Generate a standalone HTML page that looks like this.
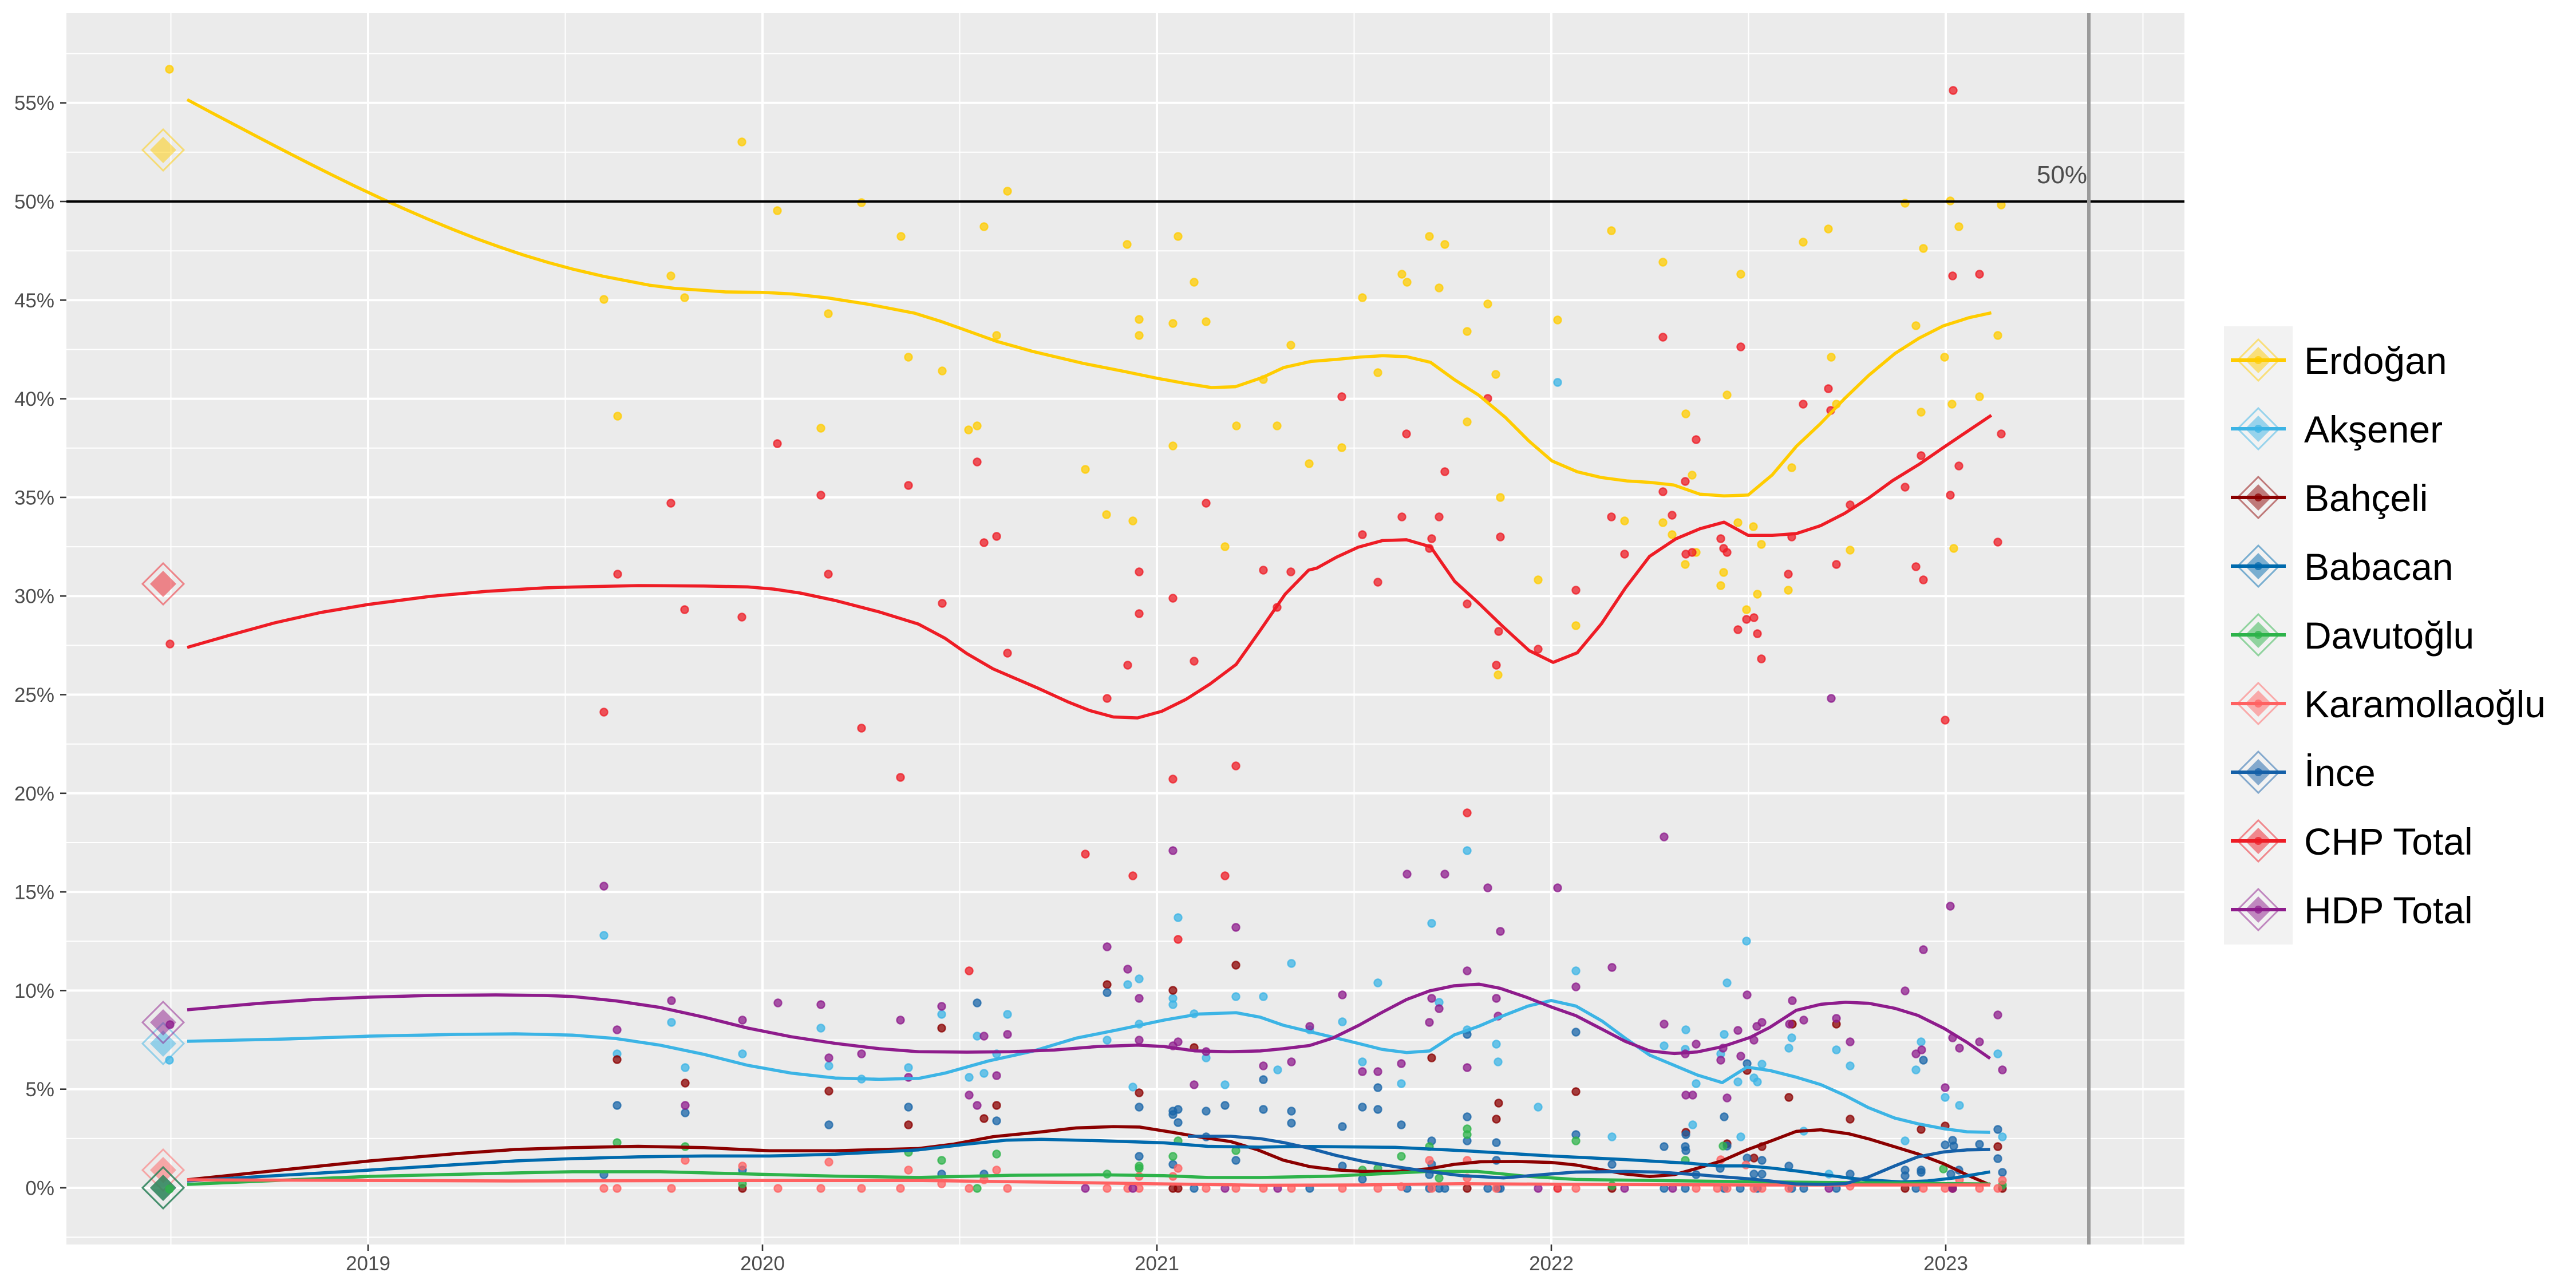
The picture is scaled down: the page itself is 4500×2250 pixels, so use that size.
<!DOCTYPE html>
<html><head><meta charset="utf-8"><style>
html,body{margin:0;padding:0;background:#fff;}
svg{display:block;}
.pt circle{stroke-width:2.4;}
</style></head><body>
<svg width="4500" height="2250" viewBox="0 0 4500 2250" xmlns="http://www.w3.org/2000/svg" font-family="'Liberation Sans', Arial, sans-serif">
<rect x="0" y="0" width="4500" height="2250" fill="#fff"/>
<rect x="116" y="23" width="3700" height="2151" fill="#EBEBEB"/>
<g stroke="#fff" stroke-width="2">
<line x1="116" x2="3816" y1="2161.2" y2="2161.2"/><line x1="116" x2="3816" y1="1988.9" y2="1988.9"/><line x1="116" x2="3816" y1="1816.6" y2="1816.6"/><line x1="116" x2="3816" y1="1644.3" y2="1644.3"/><line x1="116" x2="3816" y1="1472" y2="1472"/><line x1="116" x2="3816" y1="1299.7" y2="1299.7"/><line x1="116" x2="3816" y1="1127.4" y2="1127.4"/><line x1="116" x2="3816" y1="955.1" y2="955.1"/><line x1="116" x2="3816" y1="782.8" y2="782.8"/><line x1="116" x2="3816" y1="610.5" y2="610.5"/><line x1="116" x2="3816" y1="438.2" y2="438.2"/><line x1="116" x2="3816" y1="265.9" y2="265.9"/><line x1="116" x2="3816" y1="93.6" y2="93.6"/>
<line y1="23" y2="2174" x1="298.5" x2="298.5"/><line y1="23" y2="2174" x1="987.5" x2="987.5"/><line y1="23" y2="2174" x1="1676.5" x2="1676.5"/><line y1="23" y2="2174" x1="2365.5" x2="2365.5"/><line y1="23" y2="2174" x1="3054.5" x2="3054.5"/><line y1="23" y2="2174" x1="3743.5" x2="3743.5"/>
</g>
<g stroke="#fff" stroke-width="4">
<line x1="116" x2="3816" y1="2075" y2="2075"/><line x1="116" x2="3816" y1="1902.7" y2="1902.7"/><line x1="116" x2="3816" y1="1730.4" y2="1730.4"/><line x1="116" x2="3816" y1="1558.1" y2="1558.1"/><line x1="116" x2="3816" y1="1385.8" y2="1385.8"/><line x1="116" x2="3816" y1="1213.5" y2="1213.5"/><line x1="116" x2="3816" y1="1041.2" y2="1041.2"/><line x1="116" x2="3816" y1="868.9" y2="868.9"/><line x1="116" x2="3816" y1="696.6" y2="696.6"/><line x1="116" x2="3816" y1="524.3" y2="524.3"/><line x1="116" x2="3816" y1="352" y2="352"/><line x1="116" x2="3816" y1="179.7" y2="179.7"/>
<line y1="23" y2="2174" x1="643" x2="643"/><line y1="23" y2="2174" x1="1332" x2="1332"/><line y1="23" y2="2174" x1="2021" x2="2021"/><line y1="23" y2="2174" x1="2710" x2="2710"/><line y1="23" y2="2174" x1="3399" x2="3399"/>
</g>

<!-- election diamonds -->
<g stroke-width="3">
<g fill="#FFCC00" fill-opacity="0.5" stroke="#FFCC00" stroke-opacity="0.5"><path d="M285 226 L321 262 L285 298 L249 262 Z" fill="none"/><path d="M285 239 L308 262 L285 285 L262 262 Z" stroke="none"/></g>
<g fill="#EE1C25" fill-opacity="0.5" stroke="#EE1C25" stroke-opacity="0.5"><path d="M285 984 L321 1020 L285 1056 L249 1020 Z" fill="none"/><path d="M285 997 L308 1020 L285 1043 L262 1020 Z" stroke="none"/></g>
<g fill="#3CB4E5" fill-opacity="0.5" stroke="#3CB4E5" stroke-opacity="0.5"><path d="M285 1787 L321 1823 L285 1859 L249 1823 Z" fill="none"/><path d="M285 1800 L308 1823 L285 1846 L262 1823 Z" stroke="none"/></g>
<g fill="#8E1C8C" fill-opacity="0.5" stroke="#8E1C8C" stroke-opacity="0.5"><path d="M285 1750 L321 1786 L285 1822 L249 1786 Z" fill="none"/><path d="M285 1763 L308 1786 L285 1809 L262 1786 Z" stroke="none"/></g>
<g fill="#FF6161" fill-opacity="0.5" stroke="#FF6161" stroke-opacity="0.5"><path d="M285 2008 L321 2044 L285 2080 L249 2044 Z" fill="none"/><path d="M285 2021 L308 2044 L285 2067 L262 2044 Z" stroke="none"/></g>
<g fill="#8B0000" fill-opacity="0.5" stroke="#8B0000" stroke-opacity="0.5"><path d="M285 2039 L321 2075 L285 2111 L249 2075 Z" fill="none"/><path d="M285 2052 L308 2075 L285 2098 L262 2075 Z" stroke="none"/></g>
<g fill="#006AAD" fill-opacity="0.5" stroke="#006AAD" stroke-opacity="0.5"><path d="M285 2039 L321 2075 L285 2111 L249 2075 Z" fill="none"/><path d="M285 2052 L308 2075 L285 2098 L262 2075 Z" stroke="none"/></g>
<g fill="#2DB34A" fill-opacity="0.5" stroke="#2DB34A" stroke-opacity="0.5"><path d="M285 2039 L321 2075 L285 2111 L249 2075 Z" fill="none"/><path d="M285 2052 L308 2075 L285 2098 L262 2075 Z" stroke="none"/></g>
</g>

<!-- points -->
<g class="pt" fill="#FFCC00" fill-opacity="0.75" stroke="#FFCC00" stroke-opacity="0.75">
<circle cx="296" cy="121" r="6.5"/><circle cx="1296" cy="248" r="6.5"/><circle cx="1055" cy="523" r="6.5"/><circle cx="1172" cy="482" r="6.5"/><circle cx="1196" cy="520" r="6.5"/><circle cx="1079" cy="727" r="6.5"/><circle cx="1358" cy="368" r="6.5"/><circle cx="1505" cy="354" r="6.5"/><circle cx="1574" cy="413" r="6.5"/><circle cx="1447" cy="548" r="6.5"/><circle cx="1434" cy="748" r="6.5"/><circle cx="1587" cy="624" r="6.5"/><circle cx="1646" cy="648" r="6.5"/><circle cx="1719" cy="396" r="6.5"/><circle cx="1760" cy="334" r="6.5"/><circle cx="1741" cy="586" r="6.5"/><circle cx="1692" cy="751" r="6.5"/><circle cx="1707" cy="744" r="6.5"/><circle cx="1896" cy="820" r="6.5"/><circle cx="1933" cy="899" r="6.5"/><circle cx="1979" cy="910" r="6.5"/><circle cx="1969" cy="427" r="6.5"/><circle cx="2058" cy="413" r="6.5"/><circle cx="2086" cy="493" r="6.5"/><circle cx="1990" cy="558" r="6.5"/><circle cx="1990" cy="586" r="6.5"/><circle cx="2049" cy="565" r="6.5"/><circle cx="2107" cy="562" r="6.5"/><circle cx="2049" cy="779" r="6.5"/><circle cx="2140" cy="955" r="6.5"/><circle cx="2160" cy="744" r="6.5"/><circle cx="2207" cy="663" r="6.5"/><circle cx="2231" cy="744" r="6.5"/><circle cx="2255" cy="603" r="6.5"/><circle cx="2287" cy="810" r="6.5"/>
<circle cx="2497" cy="413" r="6.5"/><circle cx="2524" cy="427" r="6.5"/><circle cx="2449" cy="479" r="6.5"/><circle cx="2458" cy="493" r="6.5"/><circle cx="2514" cy="503" r="6.5"/><circle cx="2380" cy="520" r="6.5"/><circle cx="2599" cy="531" r="6.5"/><circle cx="2563" cy="579" r="6.5"/><circle cx="2407" cy="651" r="6.5"/><circle cx="2613" cy="654" r="6.5"/><circle cx="2344" cy="782" r="6.5"/><circle cx="2563" cy="737" r="6.5"/><circle cx="2621" cy="869" r="6.5"/><circle cx="2815" cy="403" r="6.5"/><circle cx="2905" cy="458" r="6.5"/><circle cx="2721" cy="559" r="6.5"/><circle cx="3041" cy="479" r="6.5"/><circle cx="3017" cy="690" r="6.5"/><circle cx="2945" cy="723" r="6.5"/><circle cx="2956" cy="830" r="6.5"/><circle cx="2838" cy="910" r="6.5"/><circle cx="2905" cy="913" r="6.5"/><circle cx="2921" cy="934" r="6.5"/><circle cx="2963" cy="965" r="6.5"/><circle cx="2944" cy="986" r="6.5"/><circle cx="3036" cy="913" r="6.5"/><circle cx="3063" cy="920" r="6.5"/><circle cx="3077" cy="951" r="6.5"/><circle cx="3011" cy="1000" r="6.5"/><circle cx="3006" cy="1023" r="6.5"/><circle cx="3070" cy="1038" r="6.5"/><circle cx="3051" cy="1065" r="6.5"/><circle cx="3124" cy="1031" r="6.5"/><circle cx="2687" cy="1013" r="6.5"/><circle cx="2753" cy="1093" r="6.5"/><circle cx="2617" cy="1179" r="6.5"/><circle cx="3130" cy="817" r="6.5"/><circle cx="3150" cy="423" r="6.5"/><circle cx="3194" cy="400" r="6.5"/><circle cx="3199" cy="624" r="6.5"/><circle cx="3208" cy="706" r="6.5"/><circle cx="3232" cy="961" r="6.5"/><circle cx="3328" cy="355" r="6.5"/><circle cx="3360" cy="434" r="6.5"/><circle cx="3347" cy="569" r="6.5"/><circle cx="3356" cy="720" r="6.5"/><circle cx="3407" cy="351" r="6.5"/><circle cx="3422" cy="396" r="6.5"/><circle cx="3397" cy="624" r="6.5"/><circle cx="3410" cy="706" r="6.5"/><circle cx="3413" cy="958" r="6.5"/><circle cx="3458" cy="693" r="6.5"/><circle cx="3490" cy="586" r="6.5"/><circle cx="3496" cy="358" r="6.5"/>
</g>
<g class="pt" fill="#3CB4E5" fill-opacity="0.75" stroke="#3CB4E5" stroke-opacity="0.75">
<circle cx="296" cy="1852" r="6.5"/><circle cx="1055" cy="1634" r="6.5"/><circle cx="1078" cy="1841" r="6.5"/><circle cx="1173" cy="1786" r="6.5"/><circle cx="1197" cy="1865" r="6.5"/><circle cx="1297" cy="1841" r="6.5"/><circle cx="1434" cy="1796" r="6.5"/><circle cx="1448" cy="1862" r="6.5"/><circle cx="1505" cy="1885" r="6.5"/><circle cx="1587" cy="1865" r="6.5"/><circle cx="1645" cy="1772" r="6.5"/><circle cx="1693" cy="1882" r="6.5"/><circle cx="1707" cy="1810" r="6.5"/><circle cx="1719" cy="1875" r="6.5"/><circle cx="1741" cy="1841" r="6.5"/><circle cx="1760" cy="1772" r="6.5"/><circle cx="1934" cy="1817" r="6.5"/><circle cx="1970" cy="1720" r="6.5"/><circle cx="1990" cy="1710" r="6.5"/><circle cx="1979" cy="1899" r="6.5"/><circle cx="1990" cy="1789" r="6.5"/><circle cx="2049" cy="1744" r="6.5"/><circle cx="2049" cy="1755" r="6.5"/><circle cx="2058" cy="1603" r="6.5"/><circle cx="2086" cy="1771" r="6.5"/><circle cx="2107" cy="1848" r="6.5"/><circle cx="2140" cy="1895" r="6.5"/><circle cx="2159" cy="1741" r="6.5"/>
<circle cx="2256" cy="1683" r="6.5"/><circle cx="2407" cy="1717" r="6.5"/><circle cx="2501" cy="1613" r="6.5"/><circle cx="2563" cy="1486" r="6.5"/><circle cx="2207" cy="1741" r="6.5"/><circle cx="2345" cy="1785" r="6.5"/><circle cx="2288" cy="1799" r="6.5"/><circle cx="2232" cy="1869" r="6.5"/><circle cx="2380" cy="1855" r="6.5"/><circle cx="2448" cy="1893" r="6.5"/><circle cx="2514" cy="1751" r="6.5"/><circle cx="2563" cy="1799" r="6.5"/><circle cx="2614" cy="1824" r="6.5"/><circle cx="2617" cy="1855" r="6.5"/><circle cx="2687" cy="1934" r="6.5"/><circle cx="2753" cy="1696" r="6.5"/><circle cx="2816" cy="1986" r="6.5"/><circle cx="2907" cy="1827" r="6.5"/><circle cx="2945" cy="1799" r="6.5"/><circle cx="2944" cy="1833" r="6.5"/><circle cx="2963" cy="1893" r="6.5"/><circle cx="2957" cy="1965" r="6.5"/>
<circle cx="2721" cy="668" r="6.5"/><circle cx="3051" cy="1644" r="6.5"/>
<circle cx="3017" cy="1717" r="6.5"/><circle cx="3012" cy="1807" r="6.5"/><circle cx="3130" cy="1813" r="6.5"/><circle cx="3125" cy="1831" r="6.5"/><circle cx="3208" cy="1834" r="6.5"/><circle cx="3006" cy="1841" r="6.5"/><circle cx="3356" cy="1820" r="6.5"/><circle cx="3490" cy="1841" r="6.5"/><circle cx="3078" cy="1859" r="6.5"/><circle cx="3232" cy="1862" r="6.5"/><circle cx="3347" cy="1869" r="6.5"/><circle cx="3036" cy="1890" r="6.5"/><circle cx="3064" cy="1883" r="6.5"/><circle cx="3070" cy="1890" r="6.5"/><circle cx="3398" cy="1917" r="6.5"/><circle cx="3423" cy="1931" r="6.5"/><circle cx="3041" cy="1986" r="6.5"/><circle cx="3151" cy="1976" r="6.5"/><circle cx="3328" cy="1993" r="6.5"/><circle cx="3498" cy="1986" r="6.5"/><circle cx="3195" cy="2051" r="6.5"/>
</g>
<g class="pt" fill="#8B0000" fill-opacity="0.75" stroke="#8B0000" stroke-opacity="0.75">
<circle cx="1078" cy="1851" r="6.5"/><circle cx="1197" cy="1892" r="6.5"/><circle cx="1448" cy="1906" r="6.5"/><circle cx="1587" cy="1965" r="6.5"/><circle cx="1645" cy="1796" r="6.5"/><circle cx="1719" cy="1954" r="6.5"/><circle cx="1741" cy="1931" r="6.5"/><circle cx="1934" cy="1720" r="6.5"/><circle cx="1990" cy="1909" r="6.5"/><circle cx="2049" cy="1730" r="6.5"/><circle cx="2086" cy="1830" r="6.5"/><circle cx="2159" cy="1686" r="6.5"/><circle cx="1297" cy="2076" r="6.5"/><circle cx="2049" cy="2076" r="6.5"/><circle cx="2058" cy="2076" r="6.5"/>
<circle cx="2501" cy="1848" r="6.5"/><circle cx="2618" cy="1927" r="6.5"/><circle cx="2614" cy="1955" r="6.5"/><circle cx="2753" cy="1907" r="6.5"/><circle cx="2945" cy="1978" r="6.5"/><circle cx="2563" cy="2076" r="6.5"/><circle cx="2816" cy="2076" r="6.5"/>
<circle cx="3131" cy="1789" r="6.5"/><circle cx="3208" cy="1789" r="6.5"/><circle cx="3052" cy="1870" r="6.5"/><circle cx="3125" cy="1917" r="6.5"/><circle cx="3232" cy="1955" r="6.5"/><circle cx="3356" cy="1973" r="6.5"/><circle cx="3398" cy="1967" r="6.5"/><circle cx="3490" cy="2003" r="6.5"/><circle cx="3017" cy="1998" r="6.5"/><circle cx="3078" cy="2003" r="6.5"/><circle cx="3064" cy="2023" r="6.5"/><circle cx="3498" cy="2076" r="6.5"/><circle cx="3328" cy="2076" r="6.5"/><circle cx="3411" cy="2076" r="6.5"/>
</g>
<g class="pt" fill="#1A66A8" fill-opacity="0.75" stroke="#1A66A8" stroke-opacity="0.75">
<circle cx="1078" cy="1931" r="6.5"/><circle cx="1197" cy="1944" r="6.5"/><circle cx="1448" cy="1965" r="6.5"/><circle cx="1587" cy="1934" r="6.5"/><circle cx="1707" cy="1752" r="6.5"/><circle cx="1741" cy="1958" r="6.5"/><circle cx="1934" cy="1734" r="6.5"/><circle cx="1990" cy="1934" r="6.5"/><circle cx="2049" cy="1941" r="6.5"/><circle cx="2049" cy="1947" r="6.5"/><circle cx="2058" cy="1938" r="6.5"/><circle cx="2058" cy="1961" r="6.5"/><circle cx="2107" cy="1941" r="6.5"/><circle cx="2140" cy="1931" r="6.5"/><circle cx="2107" cy="1986" r="6.5"/><circle cx="1055" cy="2052" r="6.5"/><circle cx="1297" cy="2044" r="6.5"/><circle cx="1645" cy="2051" r="6.5"/><circle cx="1719" cy="2051" r="6.5"/><circle cx="1990" cy="2020" r="6.5"/><circle cx="2049" cy="2034" r="6.5"/><circle cx="2159" cy="2027" r="6.5"/><circle cx="2086" cy="2076" r="6.5"/>
<circle cx="2207" cy="1886" r="6.5"/><circle cx="2207" cy="1938" r="6.5"/><circle cx="2256" cy="1941" r="6.5"/><circle cx="2256" cy="1962" r="6.5"/><circle cx="2345" cy="1968" r="6.5"/><circle cx="2380" cy="1934" r="6.5"/><circle cx="2407" cy="1900" r="6.5"/><circle cx="2407" cy="1938" r="6.5"/><circle cx="2448" cy="1965" r="6.5"/><circle cx="2563" cy="1807" r="6.5"/><circle cx="2563" cy="1951" r="6.5"/><circle cx="2563" cy="1993" r="6.5"/><circle cx="2501" cy="1993" r="6.5"/><circle cx="2501" cy="2034" r="6.5"/><circle cx="2614" cy="1996" r="6.5"/><circle cx="2614" cy="2027" r="6.5"/><circle cx="2753" cy="1803" r="6.5"/><circle cx="2753" cy="1982" r="6.5"/><circle cx="2816" cy="2034" r="6.5"/><circle cx="2907" cy="2003" r="6.5"/><circle cx="2944" cy="2003" r="6.5"/><circle cx="2945" cy="1982" r="6.5"/><circle cx="2945" cy="2010" r="6.5"/><circle cx="3005" cy="2041" r="6.5"/><circle cx="2963" cy="2052" r="6.5"/><circle cx="2345" cy="2037" r="6.5"/><circle cx="2380" cy="2060" r="6.5"/><circle cx="2497" cy="2052" r="6.5"/><circle cx="2288" cy="2076" r="6.5"/><circle cx="2458" cy="2076" r="6.5"/><circle cx="2497" cy="2076" r="6.5"/><circle cx="2514" cy="2076" r="6.5"/><circle cx="2524" cy="2076" r="6.5"/><circle cx="2599" cy="2076" r="6.5"/><circle cx="2617" cy="2076" r="6.5"/><circle cx="2621" cy="2076" r="6.5"/><circle cx="2907" cy="2076" r="6.5"/><circle cx="2944" cy="2076" r="6.5"/>
<circle cx="3052" cy="1858" r="6.5"/><circle cx="3360" cy="1852" r="6.5"/><circle cx="3012" cy="1951" r="6.5"/><circle cx="3017" cy="2002" r="6.5"/><circle cx="3052" cy="2023" r="6.5"/><circle cx="3078" cy="2027" r="6.5"/><circle cx="3125" cy="2037" r="6.5"/><circle cx="3064" cy="2051" r="6.5"/><circle cx="3078" cy="2051" r="6.5"/><circle cx="3232" cy="2051" r="6.5"/><circle cx="3328" cy="2044" r="6.5"/><circle cx="3328" cy="2054" r="6.5"/><circle cx="3356" cy="2044" r="6.5"/><circle cx="3356" cy="2048" r="6.5"/><circle cx="3398" cy="2000" r="6.5"/><circle cx="3411" cy="1992" r="6.5"/><circle cx="3413" cy="2002" r="6.5"/><circle cx="3458" cy="1999" r="6.5"/><circle cx="3490" cy="1973" r="6.5"/><circle cx="3490" cy="2024" r="6.5"/><circle cx="3498" cy="2048" r="6.5"/><circle cx="3408" cy="2051" r="6.5"/><circle cx="3422" cy="2044" r="6.5"/><circle cx="3012" cy="2076" r="6.5"/><circle cx="3040" cy="2076" r="6.5"/><circle cx="3070" cy="2076" r="6.5"/><circle cx="3130" cy="2076" r="6.5"/><circle cx="3151" cy="2076" r="6.5"/><circle cx="3208" cy="2076" r="6.5"/><circle cx="3347" cy="2076" r="6.5"/>
</g>
<g class="pt" fill="#2DB34A" fill-opacity="0.75" stroke="#2DB34A" stroke-opacity="0.75">
<circle cx="296" cy="2077" r="6.5"/><circle cx="1078" cy="1996" r="6.5"/><circle cx="1197" cy="2003" r="6.5"/><circle cx="1297" cy="2068" r="6.5"/><circle cx="1587" cy="2013" r="6.5"/><circle cx="1645" cy="2027" r="6.5"/><circle cx="1741" cy="2016" r="6.5"/><circle cx="1707" cy="2076" r="6.5"/><circle cx="1934" cy="2051" r="6.5"/><circle cx="1990" cy="2037" r="6.5"/><circle cx="1990" cy="2041" r="6.5"/><circle cx="2049" cy="2020" r="6.5"/><circle cx="2058" cy="1993" r="6.5"/><circle cx="2159" cy="2010" r="6.5"/>
<circle cx="2407" cy="2041" r="6.5"/><circle cx="2448" cy="2020" r="6.5"/><circle cx="2497" cy="2003" r="6.5"/><circle cx="2563" cy="1972" r="6.5"/><circle cx="2563" cy="1982" r="6.5"/><circle cx="2514" cy="2058" r="6.5"/><circle cx="2753" cy="1993" r="6.5"/><circle cx="2944" cy="2027" r="6.5"/><circle cx="2816" cy="2071" r="6.5"/><circle cx="2380" cy="2044" r="6.5"/><circle cx="3010" cy="2002" r="6.5"/><circle cx="3395" cy="2042" r="6.5"/><circle cx="3498" cy="2070" r="6.5"/>
</g>
<g class="pt" fill="#FF6161" fill-opacity="0.75" stroke="#FF6161" stroke-opacity="0.75">
<circle cx="1055" cy="2076" r="6.5"/><circle cx="1078" cy="2076" r="6.5"/><circle cx="1173" cy="2076" r="6.5"/><circle cx="1197" cy="2027" r="6.5"/><circle cx="1297" cy="2037" r="6.5"/><circle cx="1359" cy="2076" r="6.5"/><circle cx="1434" cy="2076" r="6.5"/><circle cx="1448" cy="2030" r="6.5"/><circle cx="1505" cy="2076" r="6.5"/><circle cx="1573" cy="2076" r="6.5"/><circle cx="1587" cy="2044" r="6.5"/><circle cx="1645" cy="2068" r="6.5"/><circle cx="1693" cy="2076" r="6.5"/><circle cx="1741" cy="2044" r="6.5"/><circle cx="1760" cy="2076" r="6.5"/><circle cx="1934" cy="2076" r="6.5"/><circle cx="1970" cy="2076" r="6.5"/><circle cx="1990" cy="2055" r="6.5"/><circle cx="1990" cy="2076" r="6.5"/><circle cx="2049" cy="2055" r="6.5"/><circle cx="2058" cy="2041" r="6.5"/><circle cx="2107" cy="2076" r="6.5"/><circle cx="2159" cy="2076" r="6.5"/><circle cx="1719" cy="2061" r="6.5"/>
<circle cx="2207" cy="2076" r="6.5"/><circle cx="2256" cy="2076" r="6.5"/><circle cx="2345" cy="2076" r="6.5"/><circle cx="2407" cy="2076" r="6.5"/><circle cx="2448" cy="2073" r="6.5"/><circle cx="2497" cy="2027" r="6.5"/><circle cx="2501" cy="2076" r="6.5"/><circle cx="2563" cy="2027" r="6.5"/><circle cx="2563" cy="2058" r="6.5"/><circle cx="2614" cy="2076" r="6.5"/><circle cx="2753" cy="2076" r="6.5"/><circle cx="2963" cy="2076" r="6.5"/>
<circle cx="3006" cy="2026" r="6.5"/><circle cx="3050" cy="2035" r="6.5"/><circle cx="3498" cy="2062" r="6.5"/><circle cx="3490" cy="2076" r="6.5"/><circle cx="3000" cy="2076" r="6.5"/><circle cx="3017" cy="2076" r="6.5"/><circle cx="3064" cy="2076" r="6.5"/><circle cx="3078" cy="2076" r="6.5"/><circle cx="3125" cy="2076" r="6.5"/><circle cx="3232" cy="2072" r="6.5"/><circle cx="3360" cy="2076" r="6.5"/><circle cx="3398" cy="2076" r="6.5"/><circle cx="3423" cy="2061" r="6.5"/><circle cx="3458" cy="2076" r="6.5"/>
</g>
<g class="pt" fill="#EE1C25" fill-opacity="0.75" stroke="#EE1C25" stroke-opacity="0.75">
<circle cx="297" cy="1125" r="6.5"/><circle cx="1358" cy="775" r="6.5"/><circle cx="1172" cy="879" r="6.5"/><circle cx="1079" cy="1003" r="6.5"/><circle cx="1196" cy="1065" r="6.5"/><circle cx="1296" cy="1078" r="6.5"/><circle cx="1434" cy="865" r="6.5"/><circle cx="1447" cy="1003" r="6.5"/><circle cx="1587" cy="848" r="6.5"/><circle cx="1707" cy="807" r="6.5"/><circle cx="1646" cy="1054" r="6.5"/><circle cx="1719" cy="948" r="6.5"/><circle cx="1741" cy="937" r="6.5"/><circle cx="1990" cy="999" r="6.5"/><circle cx="1990" cy="1072" r="6.5"/><circle cx="2049" cy="1045" r="6.5"/><circle cx="2107" cy="879" r="6.5"/><circle cx="2207" cy="996" r="6.5"/><circle cx="2255" cy="999" r="6.5"/><circle cx="2231" cy="1061" r="6.5"/>
<circle cx="1760" cy="1141" r="6.5"/><circle cx="1055" cy="1244" r="6.5"/><circle cx="1505" cy="1272" r="6.5"/><circle cx="1573" cy="1358" r="6.5"/><circle cx="1970" cy="1162" r="6.5"/><circle cx="1934" cy="1220" r="6.5"/><circle cx="2086" cy="1155" r="6.5"/><circle cx="2049" cy="1361" r="6.5"/><circle cx="2159" cy="1338" r="6.5"/><circle cx="1896" cy="1492" r="6.5"/><circle cx="1979" cy="1530" r="6.5"/><circle cx="2140" cy="1530" r="6.5"/><circle cx="2058" cy="1641" r="6.5"/><circle cx="1693" cy="1696" r="6.5"/>
<circle cx="2344" cy="693" r="6.5"/><circle cx="2457" cy="758" r="6.5"/><circle cx="2524" cy="824" r="6.5"/><circle cx="2599" cy="696" r="6.5"/><circle cx="2380" cy="934" r="6.5"/><circle cx="2449" cy="903" r="6.5"/><circle cx="2514" cy="903" r="6.5"/><circle cx="2501" cy="941" r="6.5"/><circle cx="2497" cy="958" r="6.5"/><circle cx="2407" cy="1017" r="6.5"/><circle cx="2621" cy="938" r="6.5"/><circle cx="2563" cy="1055" r="6.5"/><circle cx="2618" cy="1103" r="6.5"/><circle cx="2614" cy="1162" r="6.5"/><circle cx="2687" cy="1134" r="6.5"/><circle cx="2563" cy="1420" r="6.5"/><circle cx="2753" cy="1031" r="6.5"/><circle cx="2815" cy="903" r="6.5"/><circle cx="2838" cy="968" r="6.5"/><circle cx="2905" cy="589" r="6.5"/><circle cx="2905" cy="859" r="6.5"/><circle cx="2921" cy="900" r="6.5"/><circle cx="2944" cy="841" r="6.5"/><circle cx="2963" cy="768" r="6.5"/><circle cx="2945" cy="968" r="6.5"/><circle cx="2956" cy="965" r="6.5"/><circle cx="3006" cy="941" r="6.5"/><circle cx="3011" cy="958" r="6.5"/><circle cx="3017" cy="965" r="6.5"/><circle cx="3041" cy="606" r="6.5"/><circle cx="3036" cy="1100" r="6.5"/><circle cx="3051" cy="1082" r="6.5"/><circle cx="3064" cy="1079" r="6.5"/><circle cx="3070" cy="1107" r="6.5"/><circle cx="3077" cy="1151" r="6.5"/><circle cx="3124" cy="1003" r="6.5"/><circle cx="3130" cy="938" r="6.5"/><circle cx="3150" cy="706" r="6.5"/><circle cx="3194" cy="679" r="6.5"/><circle cx="3198" cy="717" r="6.5"/><circle cx="3208" cy="986" r="6.5"/><circle cx="3232" cy="882" r="6.5"/><circle cx="3328" cy="851" r="6.5"/><circle cx="3356" cy="796" r="6.5"/><circle cx="3347" cy="990" r="6.5"/><circle cx="3360" cy="1013" r="6.5"/><circle cx="3398" cy="1258" r="6.5"/><circle cx="3407" cy="865" r="6.5"/><circle cx="3411" cy="482" r="6.5"/><circle cx="3422" cy="814" r="6.5"/><circle cx="3458" cy="479" r="6.5"/><circle cx="3496" cy="758" r="6.5"/><circle cx="3490" cy="947" r="6.5"/><circle cx="3412" cy="158" r="6.5"/><circle cx="2721" cy="2076" r="6.5"/>
</g>
<g class="pt" fill="#8E1C8C" fill-opacity="0.75" stroke="#8E1C8C" stroke-opacity="0.75">
<circle cx="297" cy="1790" r="6.5"/><circle cx="1055" cy="1548" r="6.5"/><circle cx="2049" cy="1486" r="6.5"/><circle cx="2159" cy="1620" r="6.5"/><circle cx="1934" cy="1654" r="6.5"/><circle cx="1970" cy="1693" r="6.5"/><circle cx="1990" cy="1744" r="6.5"/><circle cx="1078" cy="1799" r="6.5"/><circle cx="1173" cy="1748" r="6.5"/><circle cx="1297" cy="1782" r="6.5"/><circle cx="1359" cy="1752" r="6.5"/><circle cx="1434" cy="1755" r="6.5"/><circle cx="1573" cy="1782" r="6.5"/><circle cx="1645" cy="1758" r="6.5"/><circle cx="1760" cy="1807" r="6.5"/><circle cx="1719" cy="1810" r="6.5"/><circle cx="1448" cy="1848" r="6.5"/><circle cx="1505" cy="1841" r="6.5"/><circle cx="1587" cy="1882" r="6.5"/><circle cx="1741" cy="1879" r="6.5"/><circle cx="1693" cy="1913" r="6.5"/><circle cx="1707" cy="1931" r="6.5"/><circle cx="1197" cy="1931" r="6.5"/><circle cx="1990" cy="1817" r="6.5"/><circle cx="2049" cy="1827" r="6.5"/><circle cx="2058" cy="1820" r="6.5"/><circle cx="2107" cy="1837" r="6.5"/><circle cx="2086" cy="1895" r="6.5"/><circle cx="1896" cy="2076" r="6.5"/><circle cx="1979" cy="2076" r="6.5"/><circle cx="2140" cy="2076" r="6.5"/>
<circle cx="2458" cy="1527" r="6.5"/><circle cx="2524" cy="1527" r="6.5"/><circle cx="2599" cy="1551" r="6.5"/><circle cx="2721" cy="1551" r="6.5"/><circle cx="2907" cy="1462" r="6.5"/><circle cx="2621" cy="1627" r="6.5"/><circle cx="2563" cy="1696" r="6.5"/><circle cx="2816" cy="1690" r="6.5"/><circle cx="2345" cy="1738" r="6.5"/><circle cx="2753" cy="1724" r="6.5"/><circle cx="2501" cy="1744" r="6.5"/><circle cx="2514" cy="1762" r="6.5"/><circle cx="2614" cy="1744" r="6.5"/><circle cx="2617" cy="1775" r="6.5"/><circle cx="2497" cy="1786" r="6.5"/><circle cx="2288" cy="1793" r="6.5"/><circle cx="2907" cy="1789" r="6.5"/><circle cx="2963" cy="1824" r="6.5"/><circle cx="2944" cy="1841" r="6.5"/><circle cx="2207" cy="1862" r="6.5"/><circle cx="2256" cy="1855" r="6.5"/><circle cx="2380" cy="1872" r="6.5"/><circle cx="2407" cy="1872" r="6.5"/><circle cx="2448" cy="1858" r="6.5"/><circle cx="2563" cy="1865" r="6.5"/><circle cx="2945" cy="1913" r="6.5"/><circle cx="2957" cy="1913" r="6.5"/><circle cx="2232" cy="2076" r="6.5"/><circle cx="2687" cy="2076" r="6.5"/><circle cx="2838" cy="2076" r="6.5"/><circle cx="2922" cy="2076" r="6.5"/>
<circle cx="3199" cy="1220" r="6.5"/><circle cx="3407" cy="1583" r="6.5"/><circle cx="3360" cy="1659" r="6.5"/>
<circle cx="3052" cy="1738" r="6.5"/><circle cx="3131" cy="1748" r="6.5"/><circle cx="3328" cy="1731" r="6.5"/><circle cx="3490" cy="1773" r="6.5"/><circle cx="3151" cy="1782" r="6.5"/><circle cx="3208" cy="1779" r="6.5"/><circle cx="3078" cy="1786" r="6.5"/><circle cx="3069" cy="1793" r="6.5"/><circle cx="3126" cy="1789" r="6.5"/><circle cx="3036" cy="1800" r="6.5"/><circle cx="3010" cy="1831" r="6.5"/><circle cx="3064" cy="1817" r="6.5"/><circle cx="3232" cy="1820" r="6.5"/><circle cx="3411" cy="1813" r="6.5"/><circle cx="3458" cy="1820" r="6.5"/><circle cx="3006" cy="1852" r="6.5"/><circle cx="3041" cy="1845" r="6.5"/><circle cx="3347" cy="1841" r="6.5"/><circle cx="3357" cy="1834" r="6.5"/><circle cx="3423" cy="1831" r="6.5"/><circle cx="3498" cy="1869" r="6.5"/><circle cx="3017" cy="1918" r="6.5"/><circle cx="3398" cy="1900" r="6.5"/><circle cx="3195" cy="2076" r="6.5"/><circle cx="3411" cy="2076" r="6.5"/>
</g>

<!-- smooth lines -->
<g fill="none" stroke-width="5.5" stroke-linejoin="round">
<polyline stroke="#FFCC00" points="327,174 369,196.5 411,218.6 453,240.7 495,262.5 537,284 579,305.1 621,325.6 663.5,345.6 706,364.7 748,383 790,400.3 832,416.8 874,431.9 916,446 958,458.6 1000,470 1053.6,482.6 1133.9,498.1 1178.6,503.7 1267.9,510 1332.1,510.7 1383.9,513.5 1446.4,520.5 1517.9,531.7 1598.2,547.2 1642.9,561.2 1678.6,573.8 1741.1,596.3 1803.6,613.8 1892.9,634.9 1964.3,648.9 2021.4,660.8 2071.4,669.9 2116.1,677 2158,675.6 2205.4,659.4 2242.9,641.9 2290.2,631.4 2338.3,627.5 2376.5,623.7 2414.8,621.4 2456.9,623 2499,632.9 2541.1,663.5 2583.2,690.3 2629.1,728.6 2671.2,770.7 2711,805.1 2755.4,824.2 2797.4,834.2 2843.4,840.3 2881.6,842.6 2923.7,847.2 2969.6,863.3 3011.7,866.3 3053.8,864.8 3095.9,829.6 3138,779.8 3180.1,740.1 3222.2,696.4 3264.3,655.9 3310.2,617.6 3352.3,590.8 3394.4,569.4 3440.3,554.8 3478.6,546.4"/>
<polyline stroke="#3CB4E5" points="327,1819 500,1815 646,1810 800,1807 900,1806 1000,1808.2 1076.5,1814.3 1153.1,1825.8 1229.6,1841.8 1306.1,1861 1382.7,1874.7 1459.2,1883.2 1535.7,1885.4 1604.6,1883.9 1650.5,1874.7 1727,1853.3 1803.6,1836.5 1880.1,1813.5 1956.6,1798.2 2033.1,1782.1 2094.4,1771.4 2159.4,1769.1 2201.7,1777 2241.8,1791 2287.8,1802.2 2328,1811.8 2373.9,1823 2414.1,1833.1 2457.1,1838.7 2497.3,1835.9 2540.4,1807.9 2583.4,1792.7 2626.5,1774.2 2669.5,1757.4 2709.7,1747.8 2752.8,1757.4 2798.7,1783.7 2838.9,1813.5 2881.9,1843.2 2925,1861.2 2965.2,1878 3008.6,1891.2 3051.7,1864.2 3091.8,1870.1 3137.8,1881.7 3180.8,1894.7 3223.9,1914 3264.1,1935 3310,1953.2 3350.2,1963.1 3396.1,1971.8 3436.3,1977.1 3476.5,1978.1"/>
<polyline stroke="#8B0000" points="327,2061 500,2043 646,2028 800,2015 900,2008 1000,2004.8 1114.8,2002.5 1229.6,2004.8 1344.4,2010.2 1459.2,2010.2 1604.6,2006.4 1665.8,1998.7 1734.7,1985.7 1811.2,1978.1 1880.1,1970.4 1945.1,1968.1 1991,1968.9 2048.5,1978.1 2102,1987.2 2150,1994.2 2195.9,2008.2 2241.8,2026.7 2287.8,2037.9 2333.7,2043.6 2379.6,2046.4 2437,2046.4 2494.4,2041.9 2540.4,2034 2586.3,2029.5 2649.4,2029 2709.7,2030.6 2752.8,2035.1 2798.7,2043.6 2838.9,2050.8 2881.9,2055.3 2925,2052 2965.2,2040.8 3008.2,2027.8 3051.7,2008.7 3091.8,1993.9 3137.8,1976.4 3180.8,1973.6 3229.6,1980.6 3264.1,1989.4 3310,2003.4 3350.2,2015.7 3396.1,2033.2 3436.3,2052.5 3476.5,2070"/>
<polyline stroke="#006AAD" points="327,2063 646,2044 900,2028 1000,2024 1114.8,2020.9 1229.6,2019.4 1344.4,2019.4 1459.2,2016.3 1604.6,2008.7 1688.8,1998.7 1757.6,1991.8 1818.9,1990.3 1918.4,1992.6 2033.1,1996.4 2109.7,2002.5 2200,2004 2264.8,2002.6 2437,2004.3 2551.8,2009.9 2709.7,2019.4 2838.9,2025.6 2953.7,2032.3 3000,2036.7 3051.7,2036.7 3091.8,2040.2 3137.8,2045.5 3189.4,2052.5 3229.6,2057.8 3264.1,2061.3 3321.5,2064.8 3367.4,2063 3413.3,2057.8 3476.5,2047.2"/>
<polyline stroke="#2DB34A" points="327,2069 646,2055 900,2049 1000,2046.9 1153.1,2046.9 1306.1,2050.8 1459.2,2054.6 1604.6,2056.9 1765.3,2053.1 1918.4,2052.3 2033.1,2053.8 2109.7,2056.9 2200,2057 2322.2,2054.8 2494.4,2046.4 2580.5,2046.4 2666.7,2054.8 2752.8,2060.4 3050,2064.3 3476.5,2068.3"/>
<polyline stroke="#FF6161" points="327,2061 900,2063 1306,2062.2 1612,2062.2 1841.8,2065.3 1995,2067.6 2200,2070.5 2379.6,2070 2551.8,2067.7 2724,2068.8 3050,2070 3476.5,2070"/>
<polyline stroke="#1560A8" points="2075,1985 2150,1985 2201.7,1989.1 2241.8,1995.8 2287.8,2006 2333.7,2018.3 2379.6,2028.4 2437,2038 2494.4,2046.4 2551.8,2053.6 2626.5,2057.6 2709.7,2050.8 2752.8,2047.5 2838.9,2046.4 2896.3,2047.5 2965.2,2052 3000,2055 3057.4,2059.5 3091.8,2063 3137.8,2068.3 3189.4,2069 3223.9,2067.6 3264.1,2056 3310,2036.7 3350.2,2020.9 3396.1,2012.2 3436.3,2008.7 3476.5,2008"/>
<polyline stroke="#EE1C25" points="327,1131 400,1110 480,1088 560,1070 643,1056 750,1042 850,1033 950,1027 1000,1025.5 1114.8,1023 1229.6,1023.7 1306.1,1025.3 1352,1029.1 1397.9,1036 1459.2,1049 1535.7,1068.9 1604.6,1090.3 1650.5,1114.8 1688.8,1141.6 1734.7,1168.4 1811.2,1201.3 1864.8,1225.8 1903,1241.1 1945.1,1252.5 1987.2,1254.1 2029.3,1242.6 2071.4,1221.9 2113.5,1195.1 2159.4,1160.7 2200,1103.3 2245,1038 2286,996 2300,992.6 2334.4,973.5 2372.7,955.9 2414.8,944.4 2456.9,942.9 2499,955.1 2541.1,1015.5 2583.2,1053.8 2625.2,1094.4 2671.2,1136.5 2713.3,1157.1 2755.4,1140.3 2797.4,1089.8 2839.5,1027 2881.6,971.9 2927.5,941.3 2969.6,923.7 3011.7,912.2 3053.8,935.2 3095.9,935.2 3138,932.1 3180.1,918.4 3222.2,896.9 3264.3,870.1 3306.3,839.5 3352.3,811.2 3394.4,782.1 3436.4,753.8 3478.6,725.5"/>
<polyline stroke="#8E1C8C" points="327,1764 450,1753 550,1746 643,1742 750,1739 866,1738 950,1739 1000,1740.8 1076.5,1748.5 1153.1,1759.9 1229.6,1776.8 1306.1,1795.9 1382.7,1811.2 1459.2,1822.7 1535.7,1831.9 1604.6,1837.2 1688.8,1838 1765.3,1837.2 1841.8,1834.2 1918.4,1828.1 1987.2,1825.8 2033.1,1828.1 2086.7,1835.7 2148,1837.2 2201.7,1835.9 2241.8,1832 2287.8,1826.4 2328,1813.5 2373.9,1791 2414.1,1768.6 2457.1,1746.1 2497.3,1731 2540.4,1722 2583.4,1719.2 2620.7,1726.5 2666.7,1742.2 2709.7,1759 2752.8,1774.2 2792.9,1795 2838.9,1819.1 2881.9,1835.9 2925,1840.4 2965.2,1837.6 3008.2,1828.6 3057.4,1812.2 3091.8,1794.7 3137.8,1764.9 3180.8,1754.4 3223.9,1750.9 3264.1,1752.6 3310,1761.4 3350.2,1773.7 3396.1,1796.5 3436.3,1821 3476.5,1849"/>
</g>

<!-- reference lines -->
<line x1="116" x2="3816" y1="352" y2="352" stroke="#000" stroke-width="4"/>
<line x1="3649" x2="3649" y1="23" y2="2174" stroke="#9A9A9A" stroke-width="6"/>
<text x="3646" y="320" font-size="44" fill="#4D4D4D" text-anchor="end">50%</text>

<!-- axes -->
<g stroke="#333" stroke-width="2.6">
<line x1="105" x2="116" y1="2075" y2="2075"/><line x1="105" x2="116" y1="1902.7" y2="1902.7"/><line x1="105" x2="116" y1="1730.4" y2="1730.4"/><line x1="105" x2="116" y1="1558.1" y2="1558.1"/><line x1="105" x2="116" y1="1385.8" y2="1385.8"/><line x1="105" x2="116" y1="1213.5" y2="1213.5"/><line x1="105" x2="116" y1="1041.2" y2="1041.2"/><line x1="105" x2="116" y1="868.9" y2="868.9"/><line x1="105" x2="116" y1="696.6" y2="696.6"/><line x1="105" x2="116" y1="524.3" y2="524.3"/><line x1="105" x2="116" y1="352" y2="352"/><line x1="105" x2="116" y1="179.7" y2="179.7"/>
<line y1="2174" y2="2185" x1="643" x2="643"/><line y1="2174" y2="2185" x1="1332" x2="1332"/><line y1="2174" y2="2185" x1="2021" x2="2021"/><line y1="2174" y2="2185" x1="2710" x2="2710"/><line y1="2174" y2="2185" x1="3399" x2="3399"/>
</g>
<g font-size="35" fill="#4D4D4D" text-anchor="end">
<text x="95" y="2087.5">0%</text><text x="95" y="1915.2">5%</text><text x="95" y="1742.9">10%</text><text x="95" y="1570.6">15%</text><text x="95" y="1398.3">20%</text><text x="95" y="1226">25%</text><text x="95" y="1053.7">30%</text><text x="95" y="881.4">35%</text><text x="95" y="709.1">40%</text><text x="95" y="536.8">45%</text><text x="95" y="364.5">50%</text><text x="95" y="192.2">55%</text>
</g>
<g font-size="35" fill="#4D4D4D" text-anchor="middle">
<text x="643" y="2219">2019</text><text x="1332" y="2219">2020</text><text x="2021" y="2219">2021</text><text x="2710" y="2219">2022</text><text x="3399" y="2219">2023</text>
</g>

<!-- legend -->
<rect x="3885" y="570" width="120" height="1080" fill="#F2F2F2"/>
<g stroke-width="3">
<g transform="translate(3945,629)"><path d="M0 -36 L36 0 L0 36 L-36 0 Z" fill="none" stroke="#FFCC00" stroke-opacity="0.5"/><path d="M0 -23 L23 0 L0 23 L-23 0 Z" fill="#FFCC00" fill-opacity="0.5"/><line x1="-48" x2="48" y1="0" y2="0" stroke="#FFCC00" stroke-width="6"/><circle r="7" fill="#FFCC00" fill-opacity="0.75"/></g>
<g transform="translate(3945,749)"><path d="M0 -36 L36 0 L0 36 L-36 0 Z" fill="none" stroke="#3CB4E5" stroke-opacity="0.5"/><path d="M0 -23 L23 0 L0 23 L-23 0 Z" fill="#3CB4E5" fill-opacity="0.5"/><line x1="-48" x2="48" y1="0" y2="0" stroke="#3CB4E5" stroke-width="6"/><circle r="7" fill="#3CB4E5" fill-opacity="0.75"/></g>
<g transform="translate(3945,869)"><path d="M0 -36 L36 0 L0 36 L-36 0 Z" fill="none" stroke="#8B0000" stroke-opacity="0.5"/><path d="M0 -23 L23 0 L0 23 L-23 0 Z" fill="#8B0000" fill-opacity="0.5"/><line x1="-48" x2="48" y1="0" y2="0" stroke="#8B0000" stroke-width="6"/><circle r="7" fill="#8B0000" fill-opacity="0.75"/></g>
<g transform="translate(3945,989)"><path d="M0 -36 L36 0 L0 36 L-36 0 Z" fill="none" stroke="#006AAD" stroke-opacity="0.5"/><path d="M0 -23 L23 0 L0 23 L-23 0 Z" fill="#006AAD" fill-opacity="0.5"/><line x1="-48" x2="48" y1="0" y2="0" stroke="#006AAD" stroke-width="6"/><circle r="7" fill="#006AAD" fill-opacity="0.75"/></g>
<g transform="translate(3945,1109)"><path d="M0 -36 L36 0 L0 36 L-36 0 Z" fill="none" stroke="#2DB34A" stroke-opacity="0.5"/><path d="M0 -23 L23 0 L0 23 L-23 0 Z" fill="#2DB34A" fill-opacity="0.5"/><line x1="-48" x2="48" y1="0" y2="0" stroke="#2DB34A" stroke-width="6"/><circle r="7" fill="#2DB34A" fill-opacity="0.75"/></g>
<g transform="translate(3945,1229)"><path d="M0 -36 L36 0 L0 36 L-36 0 Z" fill="none" stroke="#FF6161" stroke-opacity="0.5"/><path d="M0 -23 L23 0 L0 23 L-23 0 Z" fill="#FF6161" fill-opacity="0.5"/><line x1="-48" x2="48" y1="0" y2="0" stroke="#FF6161" stroke-width="6"/><circle r="7" fill="#FF6161" fill-opacity="0.75"/></g>
<g transform="translate(3945,1349)"><path d="M0 -36 L36 0 L0 36 L-36 0 Z" fill="none" stroke="#1560A8" stroke-opacity="0.5"/><path d="M0 -23 L23 0 L0 23 L-23 0 Z" fill="#1560A8" fill-opacity="0.5"/><line x1="-48" x2="48" y1="0" y2="0" stroke="#1560A8" stroke-width="6"/><circle r="7" fill="#1560A8" fill-opacity="0.75"/></g>
<g transform="translate(3945,1469)"><path d="M0 -36 L36 0 L0 36 L-36 0 Z" fill="none" stroke="#EE1C25" stroke-opacity="0.5"/><path d="M0 -23 L23 0 L0 23 L-23 0 Z" fill="#EE1C25" fill-opacity="0.5"/><line x1="-48" x2="48" y1="0" y2="0" stroke="#EE1C25" stroke-width="6"/><circle r="7" fill="#EE1C25" fill-opacity="0.75"/></g>
<g transform="translate(3945,1589)"><path d="M0 -36 L36 0 L0 36 L-36 0 Z" fill="none" stroke="#8E1C8C" stroke-opacity="0.5"/><path d="M0 -23 L23 0 L0 23 L-23 0 Z" fill="#8E1C8C" fill-opacity="0.5"/><line x1="-48" x2="48" y1="0" y2="0" stroke="#8E1C8C" stroke-width="6"/><circle r="7" fill="#8E1C8C" fill-opacity="0.75"/></g>
</g>
<g font-size="66" fill="#000">
<text x="4025" y="653">Erdoğan</text>
<text x="4025" y="773">Akşener</text>
<text x="4025" y="893">Bahçeli</text>
<text x="4025" y="1013">Babacan</text>
<text x="4025" y="1133">Davutoğlu</text>
<text x="4025" y="1253">Karamollaoğlu</text>
<text x="4025" y="1373">İnce</text>
<text x="4025" y="1493">CHP Total</text>
<text x="4025" y="1613">HDP Total</text>
</g>
</svg>
</body></html>
